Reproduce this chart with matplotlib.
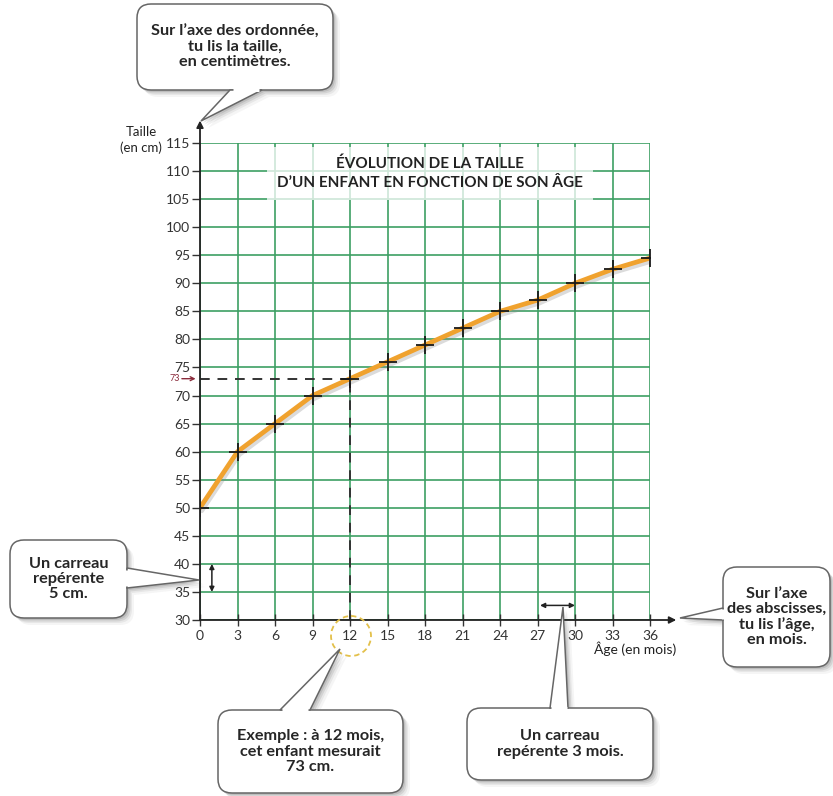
import matplotlib
matplotlib.use("Agg")
import matplotlib.pyplot as plt
import matplotlib.patheffects as pe
from matplotlib.patches import FancyBboxPatch, Polygon, Circle

plt.rcParams['font.family'] = ['Lato', 'DejaVu Sans']

# Données
ages = [0, 3, 6, 9, 12, 15, 18, 21, 24, 27, 30, 33, 36]
tailles = [50, 60, 65, 70, 73, 76, 79, 82, 85, 87, 90, 92.5, 94.5]
x_ticks = list(range(0, 37, 3))
y_ticks = list(range(30, 116, 5))
exemple_age = 12
exemple_taille = 73

titre = "ÉVOLUTION DE LA TAILLE\nD’UN ENFANT EN FONCTION DE SON ÂGE"
label_y = "Taille\n(en cm)"
label_x = "Âge (en mois)"
bulles = [
    "Sur l’axe des ordonnée,\ntu lis la taille,\nen centimètres.",
    "Un carreau\nrepérente\n5 cm.",
    "Exemple : à 12 mois,\ncet enfant mesurait\n73 cm.",
    "Un carreau\nrepérente 3 mois.",
    "Sur l’axe\ndes abscisses,\ntu lis l’âge,\nen mois.",
]

W, H = 833, 796
fig = plt.figure(figsize=(W / 100, H / 100), dpi=100)
fig.patch.set_facecolor('white')

# axes principal: x de 200 a 650 px, y de 143 a 620 px
ax = fig.add_axes([200 / W, (H - 620) / H, 450 / W, 477 / H])
ax.set_xlim(0, 36)
ax.set_ylim(30, 115)
for s in ax.spines.values():
    s.set_visible(False)
ax.set_xticks(x_ticks)
ax.set_yticks(y_ticks)
ax.tick_params(axis='y', direction='out', length=6, width=1, color='#333',
               labelsize=10, labelcolor='#333', pad=1)
ax.tick_params(axis='x', direction='inout', length=8, width=1, color='#333',
               labelsize=10, labelcolor='#333', pad=3)
ax.set_axisbelow(True)
ax.grid(True, color='#3d9f63', lw=1.2)

# fleches des axes
arrow_kw = dict(arrowstyle='-|>', color='#222', lw=1.3, mutation_scale=10,
                shrinkA=0, shrinkB=0)
ax.annotate("", xy=(38.1, 30), xytext=(0, 30), arrowprops=arrow_kw,
            annotation_clip=False, zorder=5)
ax.annotate("", xy=(0, 119), xytext=(0, 30), arrowprops=arrow_kw,
            annotation_clip=False, zorder=5)

# titre
ax.text(18.4, 109.6, titre, ha='center', va='center', fontweight='bold',
        fontsize=11, color='#222', linespacing=1.5,
        bbox=dict(fc='white', ec='none', alpha=0.75, pad=7), zorder=2)

# courbe
ax.plot(ages, tailles, color='#f0a22e', lw=3.4, solid_capstyle='round',
        solid_joinstyle='round', zorder=3,
        path_effects=[pe.SimpleLineShadow(offset=(1.2, -2.2), shadow_color='#888',
                                          alpha=0.3), pe.Normal()])
ax.plot(ages, tailles, ls='none', marker='+', ms=13, mew=1.3, color='#1a1a1a',
        zorder=4)

# exemple en pointilles
dash = (0, (5, 4))
ax.plot([0, exemple_age], [exemple_taille, exemple_taille], ls=dash,
        color='#333', lw=1.4, zorder=3)
ax.plot([exemple_age, exemple_age], [30, exemple_taille], ls=dash,
        color='#333', lw=1.4, zorder=3)
ax.annotate("", xy=(-0.35, exemple_taille), xytext=(-1.45, exemple_taille),
            arrowprops=dict(arrowstyle='->', color='#8a2b3b', lw=1,
                            mutation_scale=7, shrinkA=0, shrinkB=0),
            annotation_clip=False)
ax.text(-1.6, exemple_taille, str(exemple_taille), ha='right', va='center',
        fontsize=6.5, color='#8a2b3b', clip_on=False)

# carreaux
dbl = dict(arrowstyle='<|-|>', color='#222', lw=1.1, mutation_scale=7,
           shrinkA=0, shrinkB=0)
ax.annotate("", xy=(0.95, 40), xytext=(0.95, 35), arrowprops=dbl, zorder=5)
ax.annotate("", xy=(30, 32.6), xytext=(27.2, 32.6), arrowprops=dbl, zorder=5)

# calque en pixels pour les bulles
ov = fig.add_axes([0, 0, 1, 1], zorder=5)
ov.set_xlim(0, W)
ov.set_ylim(H, 0)
ov.axis('off')
ov.patch.set_alpha(0)

ov.text(141, 140, label_y, ha='center', va='center', fontsize=9.5,
        color='#222', linespacing=1.25)
ov.text(635, 649, label_x, ha='center', va='center', fontsize=10, color='#222')
ov.add_patch(Circle((351, 636), 20, fill=False, ec='#e3c04a', lw=1.3,
                    ls=(0, (3, 2))))


def bulle(x0, y0, x1, y1, b1, b2, tip, texte, fs=11.7):
    w, h = x1 - x0, y1 - y0
    style = "round,pad=0,rounding_size=14"
    for k, a in [(7, 0.05), (5, 0.08), (3.5, 0.12), (2, 0.15)]:
        ov.add_patch(FancyBboxPatch((x0 + k, y0 + k), w, h, boxstyle=style,
                                    fc='#444', ec='none', alpha=a))
        ov.add_patch(Polygon([(b1[0] + k, b1[1] + k), (tip[0] + k, tip[1] + k),
                              (b2[0] + k, b2[1] + k)], closed=True,
                             fc='#444', ec='none', alpha=a))
    ov.add_patch(FancyBboxPatch((x0, y0), w, h, boxstyle=style,
                                fc='white', ec='#666', lw=1.1))
    ov.add_patch(Polygon([b1, tip, b2], closed=True, fc='white', ec='#666',
                         lw=1.1))
    dx, dy = b2[0] - b1[0], b2[1] - b1[1]
    e = 0.08
    ov.plot([b1[0] + e * dx, b2[0] - e * dx], [b1[1] + e * dy, b2[1] - e * dy],
            color='white', lw=2.2, solid_capstyle='butt')
    ov.text((x0 + x1) / 2, (y0 + y1) / 2, texte, ha='center', va='center',
            fontweight='bold', fontsize=fs, color='#262626', linespacing=1.1)


bulle(137, 4, 333, 90, (230, 90), (262, 90), (201, 121), bulles[0])
bulle(10, 540, 127, 618, (127, 568), (127, 588), (199, 580), bulles[1])
bulle(218, 710, 403, 793, (280, 710), (310, 710), (340, 649), bulles[2])
bulle(467, 708, 653, 780, (550, 708), (568, 708), (563, 607), bulles[3])
bulle(723, 567, 830, 667, (723, 608), (723, 620), (680, 618), bulles[4])

fig.savefig("out.png", dpi=100)
